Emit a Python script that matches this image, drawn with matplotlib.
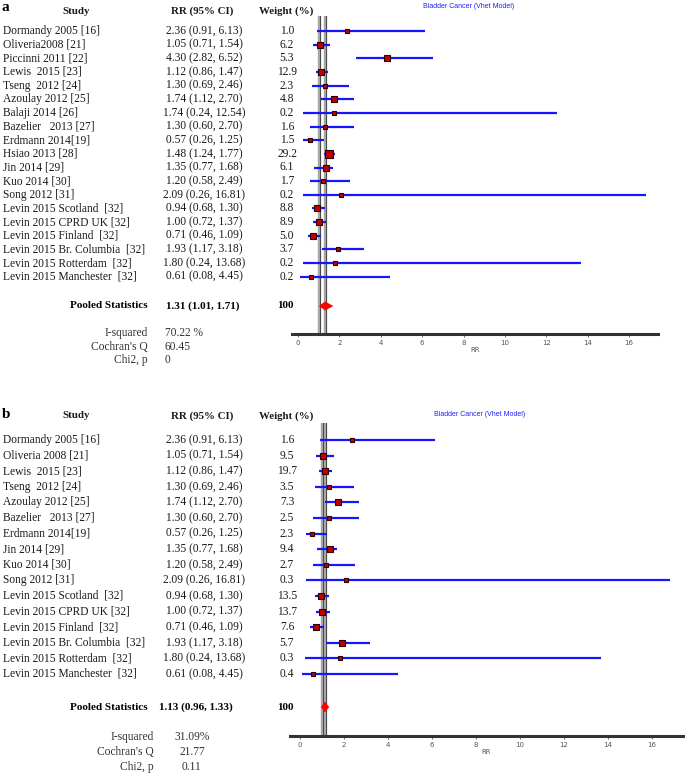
import numpy as np
import matplotlib.pyplot as plt

W, H, DPI = 685, 776, 100

# ---- panel a data
studies_a = ['Dormandy 2005 [16]', 'Oliveria2008 [21]', 'Piccinni 2011 [22]', 'Lewis  2015 [23]',
             'Tseng  2012 [24]', 'Azoulay 2012 [25]', 'Balaji 2014 [26]', 'Bazelier   2013 [27]',
             'Erdmann 2014[19]', 'Hsiao 2013 [28]', 'Jin 2014 [29]', 'Kuo 2014 [30]', 'Song 2012 [31]',
             'Levin 2015 Scotland  [32]', 'Levin 2015 CPRD UK [32]', 'Levin 2015 Finland  [32]',
             'Levin 2015 Br. Columbia  [32]', 'Levin 2015 Rotterdam  [32]', 'Levin 2015 Manchester  [32]']
rr_a = [2.36, 1.05, 4.30, 1.12, 1.30, 1.74, 1.74, 1.30, 0.57, 1.48, 1.35, 1.20, 2.09, 0.94, 1.00, 0.71, 1.93, 1.80, 0.61]
lo_a = [0.91, 0.71, 2.82, 0.86, 0.69, 1.12, 0.24, 0.60, 0.26, 1.24, 0.77, 0.58, 0.26, 0.68, 0.72, 0.46, 1.17, 0.24, 0.08]
hi_a = [6.13, 1.54, 6.52, 1.47, 2.46, 2.70, 12.54, 2.70, 1.25, 1.77, 1.68, 2.49, 16.81, 1.30, 1.37, 1.09, 3.18, 13.68, 4.45]
weight_a = [1.0, 6.2, 5.3, 12.9, 2.3, 4.8, 0.2, 1.6, 1.5, 29.2, 6.1, 1.7, 0.2, 8.8, 8.9, 5.0, 3.7, 0.2, 0.2]
pooled_a = (1.31, 1.01, 1.71)
stats_a = [('I-squared', '70.22 %'), ("Cochran's Q", '60.45'), ('Chi2, p', '0')]

# ---- panel b data
studies_b = ['Dormandy 2005 [16]', 'Oliveria 2008 [21]', 'Lewis  2015 [23]', 'Tseng  2012 [24]',
             'Azoulay 2012 [25]', 'Bazelier   2013 [27]', 'Erdmann 2014[19]', 'Jin 2014 [29]', 'Kuo 2014 [30]',
             'Song 2012 [31]', 'Levin 2015 Scotland  [32]', 'Levin 2015 CPRD UK [32]', 'Levin 2015 Finland  [32]',
             'Levin 2015 Br. Columbia  [32]', 'Levin 2015 Rotterdam  [32]', 'Levin 2015 Manchester  [32]']
rr_b = [2.36, 1.05, 1.12, 1.30, 1.74, 1.30, 0.57, 1.35, 1.20, 2.09, 0.94, 1.00, 0.71, 1.93, 1.80, 0.61]
lo_b = [0.91, 0.71, 0.86, 0.69, 1.12, 0.60, 0.26, 0.77, 0.58, 0.26, 0.68, 0.72, 0.46, 1.17, 0.24, 0.08]
hi_b = [6.13, 1.54, 1.47, 2.46, 2.70, 2.70, 1.25, 1.68, 2.49, 16.81, 1.30, 1.37, 1.09, 3.18, 13.68, 4.45]
weight_b = [1.6, 9.5, 19.7, 3.5, 7.3, 2.5, 2.3, 9.4, 2.7, 0.3, 13.5, 13.7, 7.6, 5.7, 0.3, 0.4]
pooled_b = (1.13, 0.96, 1.33)
stats_b = [('I-squared', '31.09%'), ("Cochran's Q", '21.77'), ('Chi2, p', '0.11')]

xticks = [0, 2, 4, 6, 8, 10, 12, 14, 16]
TITLE = 'Bladder Cancer (Vhet Model)'

SERIF = 'Liberation Serif'
FS = 8.3
TXT = '#1a1a1a'

fig = plt.figure(figsize=(W / DPI, H / DPI), dpi=DPI)
# background axes in pixel units for the table text
bg = fig.add_axes([0, 0, 1, 1])
bg.set_xlim(0, W)
bg.set_ylim(H, 0)
bg.axis('off')


def draw_panel(letter, studies, rr, lo, hi, weight, pooled, stats, lay):
    y0, dy = lay['row0'], lay['dy']
    rows = [y0 + i * dy for i in range(len(studies))]

    bg.text(2, lay['letter_y'], letter, fontfamily=SERIF, fontweight='bold', fontsize=11, va='baseline')
    for x, s in [(76, 'Study'), (202, 'RR (95% CI)'), (286, 'Weight (%)')]:
        bg.text(x, lay['header'], s, fontfamily=SERIF, fontweight='bold', fontsize=FS - 0.5,
                ha='center', va='center', color=TXT)

    for y, s, r, l, h, w in zip(rows, studies, rr, lo, hi, weight):
        bg.text(3, y, s, fontfamily=SERIF, fontsize=FS, va='center', color=TXT)
        bg.text(204, y, '%.2f (%.2f, %.2f)' % (r, l, h), fontfamily=SERIF, fontsize=FS,
                ha='center', va='center', color=TXT)
        bg.text(287, y, '%.1f' % w, fontfamily=SERIF, fontsize=FS, ha='center', va='center', color=TXT)

    yp = lay['pooled']
    bg.text(148, yp, 'Pooled Statistics', fontfamily=SERIF, fontweight='bold', fontsize=FS - 0.3,
            ha='right', va='center')
    bg.text(lay['pooled_x'], yp, '%.2f (%.2f, %.2f)' % pooled, fontfamily=SERIF, fontweight='bold',
            fontsize=FS - 0.3, ha='center', va='center')
    bg.text(285, yp, '100', fontfamily=SERIF, fontweight='bold', fontsize=FS - 0.3, ha='center', va='center')

    for y, (lab, val) in zip(lay['stats'], stats):
        bg.text(lay['stat_lab_x'], y, lab, fontfamily=SERIF, fontsize=FS, ha='right', va='center',
                color='#333333')
        bg.text(lay['stat_val_x'], y, val, fontfamily=SERIF, fontsize=FS, ha=lay['stat_ha'], va='center',
                color='#333333')

    # forest plot axes, y in pixel units so rows line up with the text
    x0, x1, ytop, yax = lay['ax']
    ax = fig.add_axes([x0 / W, 1 - yax / H, (x1 - x0) / W, (yax - ytop) / H])
    ax.set_xlim(*lay['xlim'])
    ax.set_ylim(yax, ytop)
    for sp in ['top', 'left', 'right']:
        ax.spines[sp].set_visible(False)
    ax.spines['bottom'].set_linewidth(2.2)
    ax.spines['bottom'].set_color('#333333')
    ax.set_yticks([])
    ax.set_xticks(xticks)
    ax.set_xticklabels([str(t) for t in xticks])
    ax.tick_params(axis='x', labelsize=5, colors='#555555', length=2, width=0.6, pad=2)
    ax.set_xlabel('RR', fontsize=5, color='#555555', labelpad=1)
    ax.patch.set_alpha(0)

    for xv in [1.0, pooled[0]]:
        ax.axvline(xv, color='#4a4a4a', lw=2.3, zorder=1)
        ax.axvline(xv, color='#c4c4c4', lw=1.1, zorder=1)

    for y, r, l, h, w in zip(rows, rr, lo, hi, weight):
        ax.plot([l, h], [y, y], color='#1515ff', lw=1.6, solid_capstyle='butt', zorder=2)
        ms = (3.3 + 0.78 * np.sqrt(w)) * 0.72
        ax.plot(r, y, marker='s', ms=ms, mfc='#c00000', mec='#2a0000', mew=0.8, zorder=3)

    hd = lay['diamond_h']
    est, plo, phi = pooled
    ax.fill([plo, est, phi, est], [yp, yp - hd, yp, yp + hd], color='#ff0000', zorder=4, lw=0)

    fig.text((x0 + x1) / 2 / W + lay['title_dx'], 1 - lay['title_y'] / H, TITLE, color='#2020ff',
             fontsize=5, fontfamily=['Liberation Sans Narrow', 'Liberation Sans'], ha='center', va='center')


lay_a = dict(row0=31, dy=13.65, header=11, letter_y=11, pooled=306, pooled_x=203, stats=[333, 347, 360],
             stat_lab_x=148, stat_val_x=165, stat_ha='left',
             ax=(292, 658, 16, 334), xlim=(-0.29, 17.4), diamond_h=4.5, title_y=7, title_dx=-0.01)
lay_b = dict(row0=440, dy=15.6, header=416, letter_y=418, pooled=707, pooled_x=196, stats=[737, 752, 767],
             stat_lab_x=154, stat_val_x=192, stat_ha='center',
             ax=(290, 683, 423, 736), xlim=(-0.45, 17.4), diamond_h=5.5, title_y=415, title_dx=-0.01)

draw_panel('a', studies_a, rr_a, lo_a, hi_a, weight_a, pooled_a, stats_a, lay_a)
draw_panel('b', studies_b, rr_b, lo_b, hi_b, weight_b, pooled_b, stats_b, lay_b)

fig.savefig('out.png', dpi=DPI, facecolor='white')
